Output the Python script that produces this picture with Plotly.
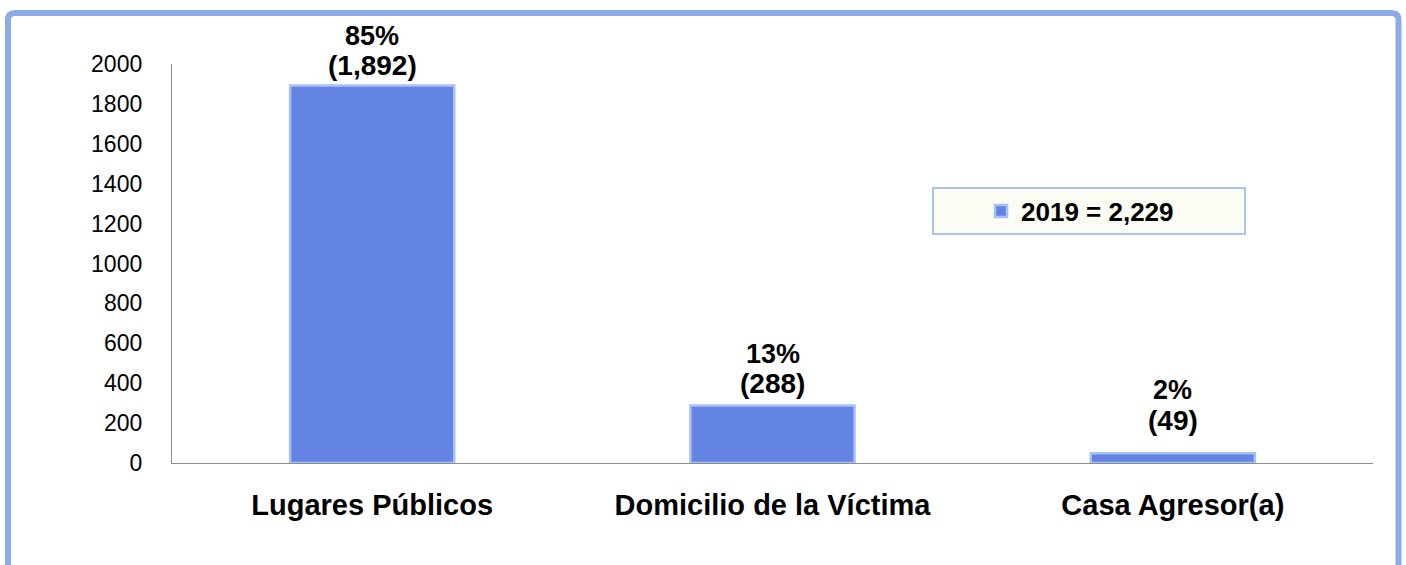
import plotly.graph_objects as go

# ---- data ----
categories = ["Lugares Públicos", "Domicilio de la Víctima", "Casa Agresor(a)"]
values = [1892, 288, 49]
percent_labels = ["85%", "13%", "2%"]
series_name = "2019 = 2,229"
y_ticks = [0, 200, 400, 600, 800, 1000, 1200, 1400, 1600, 1800, 2000]

# ---- style ----
FONT = "Liberation Sans, Arial, sans-serif"
BAR_COLOR = "#6384e2"
BAR_EDGE = "#a7c1f4"
BORDER = "#8aaae8"
AXIS = "#8c8c8c"
label_shift = [20, 22, 33]   # pixel offset of value label above bar top

W, H = 1406, 565
ML, MR, MT, MB = 172, 33, 64, 102
PW, PH = W - ML - MR, H - MT - MB


def px(xp):
    return (xp - ML) / PW


def py(yp):
    return (H - MB - yp) / PH


fig = go.Figure()
fig.add_trace(go.Bar(
    x=categories, y=values, name=series_name, width=0.41,
    marker=dict(color=BAR_COLOR, line=dict(color=BAR_EDGE, width=2.5)),
    showlegend=True,
))

annotations = []
for c, v, p, s in zip(categories, values, percent_labels, label_shift):
    annotations.append(dict(x=c, y=v, xref="x", yref="y", text=f"({v:,})",
                            showarrow=False, yanchor="middle", yshift=s,
                            font=dict(family=FONT, size=28, color="black", weight="bold")))
    annotations.append(dict(x=c, y=v, xref="x", yref="y", text=p,
                            showarrow=False, yanchor="middle", yshift=s + 30,
                            font=dict(family=FONT, size=27, color="black", weight="bold")))

# figure border (rounded rectangle) in paper coordinates
x0, x1 = px(8), px(1398.5)
y0, y1 = py(580), py(13)
rx, ry = 7 / PW, 7 / PH
border_path = (f"M {x0+rx},{y1} L {x1-rx},{y1} Q {x1},{y1} {x1},{y1-ry} "
               f"L {x1},{y0+ry} Q {x1},{y0} {x1-rx},{y0} L {x0+rx},{y0} "
               f"Q {x0},{y0} {x0},{y0+ry} L {x0},{y1-ry} Q {x0},{y1} {x0+rx},{y1} Z")

shapes = [
    dict(type="path", xref="paper", yref="paper", path=border_path,
         line=dict(color=BORDER, width=6), layer="above"),
    dict(type="rect", xref="paper", yref="paper",
         x0=px(933), x1=px(1245), y0=py(234), y1=py(188),
         fillcolor="#fbfcf3", line=dict(color="#8fb2ee", width=1.5), layer="above"),
]

fig.update_layout(
    width=W, height=H,
    margin=dict(l=ML, r=MR, t=MT, b=MB),
    paper_bgcolor="white", plot_bgcolor="white",
    font=dict(family=FONT, color="black"),
    bargap=0.59,
    xaxis=dict(showline=True, linecolor=AXIS, linewidth=1.3, ticks="",
               showgrid=False, ticklabelstandoff=16,
               tickfont=dict(family=FONT, size=29, color="black", weight="bold")),
    yaxis=dict(range=[0, 2000], tickvals=y_ticks, tickformat="d",
               showline=True, linecolor=AXIS, linewidth=1.3, ticks="",
               showgrid=False, zeroline=False, ticklabelstandoff=24,
               tickfont=dict(family=FONT, size=23, color="black")),
    legend=dict(x=px(981), xanchor="left", y=py(211), yanchor="middle",
                bgcolor="rgba(0,0,0,0)", borderwidth=0,
                font=dict(family=FONT, size=26, color="black", weight="bold")),
    annotations=annotations,
    shapes=shapes,
)

fig.write_html("out.html", config={"displayModeBar": False},
               post_script="document.body.style.margin='0';document.body.style.overflow='hidden';")
